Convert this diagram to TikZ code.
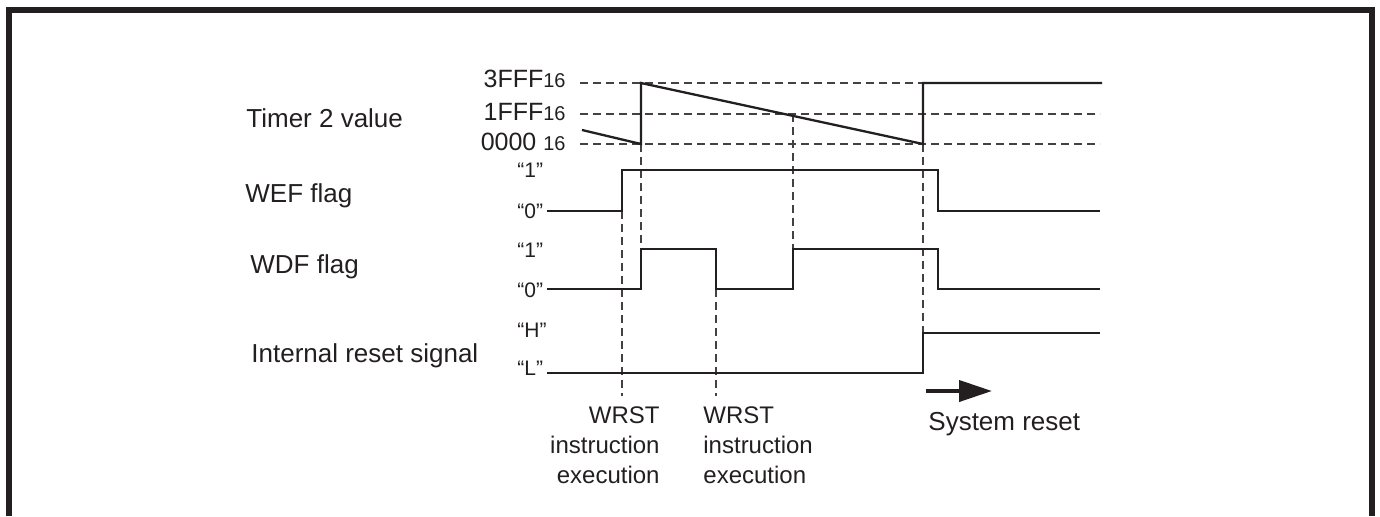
\documentclass[tikz,border=0pt]{standalone}
\usepackage{fontspec}
\setmainfont{Liberation Sans}
\usepackage{tikz}
\usetikzlibrary{arrows.meta,positioning}
\usepackage{xcolor}
\definecolor{inkdark}{HTML}{231F20}
\tikzset{
  wave/.style={draw=inkdark, line width=1.15pt, line join=miter},
  guide/.style={draw=inkdark!85, line width=0.7pt, dash pattern=on 4pt off 2.5pt},
  sigtag/.style={font=\fontsize{13}{15}\selectfont, anchor=base west, inner sep=0pt, text=inkdark},
  valtag/.style={font=\fontsize{12.5}{14}\selectfont, anchor=base east, inner sep=0pt, text=inkdark},
  lvltag/.style={font=\fontsize{10.5}{12}\selectfont, anchor=base west, inner sep=0pt, text=inkdark},
  notetag/.style={font=\fontsize{12}{15}\selectfont, inner sep=0pt, text=inkdark},
  resetarr/.style={-{Triangle[length=16.5pt,width=10.5pt]}, draw=inkdark, line width=2pt},
}
\newcommand{\hexsub}[1]{{\fontsize{10}{12}\selectfont #1}}

\begin{document}
\begin{tikzpicture}[x=0.5pt,y=-0.5pt]
\useasboundingbox (0,0) rectangle (1380,516);
\draw[draw=inkdark, line width=2.75pt] (9,516) -- (9,10) -- (1372,10) -- (1372,516);
\node[sigtag] (tmr) at (246,127) {Timer 2 value};
\node[sigtag] (wef) at (245,202) {WEF flag};
\node[sigtag] (wdf) at (250,273) {WDF flag};
\node[sigtag] (rst) at (251,362) {Internal reset signal};
\node[valtag] (v3fff) at (566,87) {3FFF\hexsub{16}};
\node[valtag] (v1fff) at (566,120) {1FFF\hexsub{16}};
\node[valtag] (v0000) at (566,150) {0000 \hexsub{16}};
\node[lvltag] (wefhi) at (517,177) {“1”};
\node[lvltag] (weflo) at (517,218) {“0”};
\node[lvltag] (wdfhi) at (517,257) {“1”};
\node[lvltag] (wdflo) at (517,297) {“0”};
\node[lvltag] (rsthi) at (517,337) {“H”};
\node[lvltag] (rstlo) at (517,375) {“L”};
\foreach \y in {83,114,144}{%
  \draw[guide] (580,\y) -- (1100,\y);
}
\draw[guide] (622,211) -- (622,396);
\draw[guide] (641,144) -- (641,249);
\draw[guide] (716,289) -- (716,396);
\draw[guide] (793,114) -- (793,249);
\draw[guide] (923,144) -- (923,333);
\draw[wave] (582,130) -- (641,144) -- (641,83) -- (923,144) -- (923,83) -- (1102,83);
\draw[wave] (547,211) -- (622,211) -- (622,170) -- (938,170) -- (938,211) -- (1100,211);
\draw[wave] (547,289) -- (641,289) -- (641,249) -- (716,249) -- (716,289) -- (793,289)
  -- (793,249) -- (938,249) -- (938,289) -- (1100,289);
\draw[wave] (547,373) -- (923,373) -- (923,333) -- (1100,333);
\node[notetag, anchor=north east, align=right] (wrstA) at (660,406)
  {WRST\\instruction\\execution};
\node[notetag, anchor=north west, align=left] (wrstB) at (703,406)
  {WRST\\instruction\\execution};
\coordinate (srA) at (926,391);
\coordinate (srB) at (992,391);
\draw[resetarr] (srA) -- (srB);
\node[notetag, font=\fontsize{13}{15}\selectfont, anchor=base west] (sysrst) at (928,430) {System reset};
\end{tikzpicture}
\end{document}
